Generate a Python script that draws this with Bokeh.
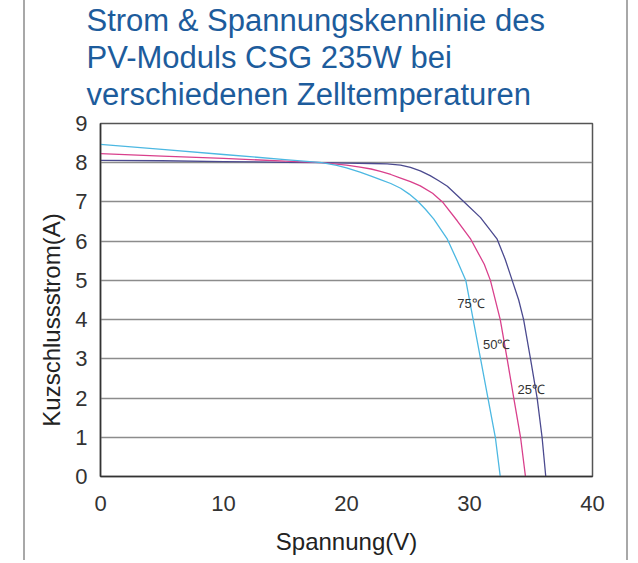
from bokeh.plotting import figure
from bokeh.models import Title, Label, FixedTicker, Range1d
from bokeh.embed import file_html
from bokeh.resources import INLINE

# ---- data ----
title_lines = ["Strom & Spannungskennlinie des",
               "PV-Moduls CSG 235W bei",
               "verschiedenen Zelltemperaturen"]
x_label = "Spannung(V)"
y_label = "Kuzschlussstrom(A)"
x_ticks = [0, 10, 20, 30, 40]
y_ticks = [0, 1, 2, 3, 4, 5, 6, 7, 8, 9]

v_25 = [0, 5, 10, 15, 18, 20, 22, 23.3, 24.4, 25.2, 26.0, 26.8, 27.5, 28.2, 29.5, 30.9, 32.25, 32.9, 33.47, 34.0, 34.4, 34.96, 35.5, 35.9, 36.2]
i_25 = [8.06, 8.05, 8.03, 8.01, 8.0, 7.99, 7.98, 7.97, 7.94, 7.88, 7.79, 7.67, 7.54, 7.40, 7.02, 6.60, 6.05, 5.54, 5.0, 4.5, 4.0, 3.0, 2.0, 1.0, 0.0]

v_50 = [0, 5, 10, 15, 18, 20, 21.1, 22.0, 22.76, 23.6, 24.4, 25.2, 26.0, 27.0, 27.8, 29.0, 30.1, 31.2, 31.7, 32.5, 33.06, 33.6, 34.15, 34.55]
i_50 = [8.23, 8.17, 8.11, 8.04, 8.0, 7.94, 7.89, 7.84, 7.78, 7.70, 7.61, 7.52, 7.41, 7.22, 7.0, 6.52, 6.05, 5.41, 5.0, 4.0, 3.0, 2.0, 1.0, 0.0]

v_75 = [0, 5, 10, 15, 18, 19.2, 20, 21.1, 22.0, 22.76, 23.6, 24.4, 25.1, 25.75, 26.4, 27.1, 28.2, 29.0, 29.7, 30.3, 30.9, 31.5, 32.1, 32.5]
i_75 = [8.47, 8.34, 8.21, 8.08, 8.0, 7.93, 7.87, 7.76, 7.66, 7.57, 7.47, 7.35, 7.20, 7.03, 6.82, 6.56, 6.05, 5.5, 5.0, 4.0, 3.0, 2.0, 1.0, 0.0]

curve_labels = ["75\u2103", "50\u2103", "25\u2103"]
label_x = [29.0, 31.1, 33.9]
label_y = [4.42, 3.36, 2.21]

FONT = "Liberation Sans"
TITLE_COLOR = "#1d5c9c"

p = figure(width=632, height=560, output_backend="svg", toolbar_location=None,
           x_range=Range1d(0, 40), y_range=Range1d(0, 9),
           min_border_left=100, min_border_right=40, min_border_top=122, min_border_bottom=84,
           styles={"background-image": "linear-gradient(to right, transparent 23px, #a8a8a8 23px, #a8a8a8 25px, transparent 25px, transparent 626px, #a8a8a8 626px, #a8a8a8 628px, transparent 628px)"})
p.border_fill_alpha = 0
p.background_fill_color = "white"

# spacer between frame and title block, then title lines bottom-up
p.add_layout(Title(text="\u00a0", text_font=FONT, text_font_size="9px", standoff=0), "above")
for line in reversed(title_lines):
    t = Title(text=line, align="left", offset=-14, text_font=FONT, text_font_size="31px",
              text_font_style="normal", text_color=TITLE_COLOR, standoff=0)
    p.add_layout(t, "above")

p.line(v_25, i_25, line_color="#4b4a8f", line_width=1.3)
p.line(v_50, i_50, line_color="#d9408c", line_width=1.3)
p.line(v_75, i_75, line_color="#4cb8e2", line_width=1.3)

for txt, lx, ly in zip(curve_labels, label_x, label_y):
    p.add_layout(Label(x=lx, y=ly, text=txt, text_font=FONT, text_font_size="13px",
                       text_color="#333333", text_baseline="middle", text_align="left"))

p.xaxis.ticker = FixedTicker(ticks=x_ticks)
p.yaxis.ticker = FixedTicker(ticks=y_ticks)
p.xgrid.grid_line_color = None
p.ygrid.grid_line_color = "#8c8c8c"
p.ygrid.grid_line_width = 1.5

for ax in (p.xaxis[0], p.yaxis[0]):
    ax.axis_line_color = "#333333"
    ax.axis_line_width = 1.5
    ax.major_tick_line_color = None
    ax.minor_tick_line_color = None
    ax.major_label_text_font = FONT
    ax.major_label_text_font_size = "22px"
    ax.major_label_text_color = "#333333"
    ax.axis_label_text_font = FONT
    ax.axis_label_text_font_size = "24px"
    ax.axis_label_text_font_style = "normal"
    ax.axis_label_text_color = "#222222"

p.xaxis.axis_label = x_label
p.yaxis.axis_label = y_label + "\u00a0" * 6
p.xaxis.major_label_standoff = 13
p.yaxis.major_label_standoff = 7
p.xaxis.axis_label_standoff = 14
p.yaxis.axis_label_standoff = 7

p.outline_line_color = "#555555"
p.outline_line_width = 1.5

open("out.html", "w").write(file_html(p, INLINE))
